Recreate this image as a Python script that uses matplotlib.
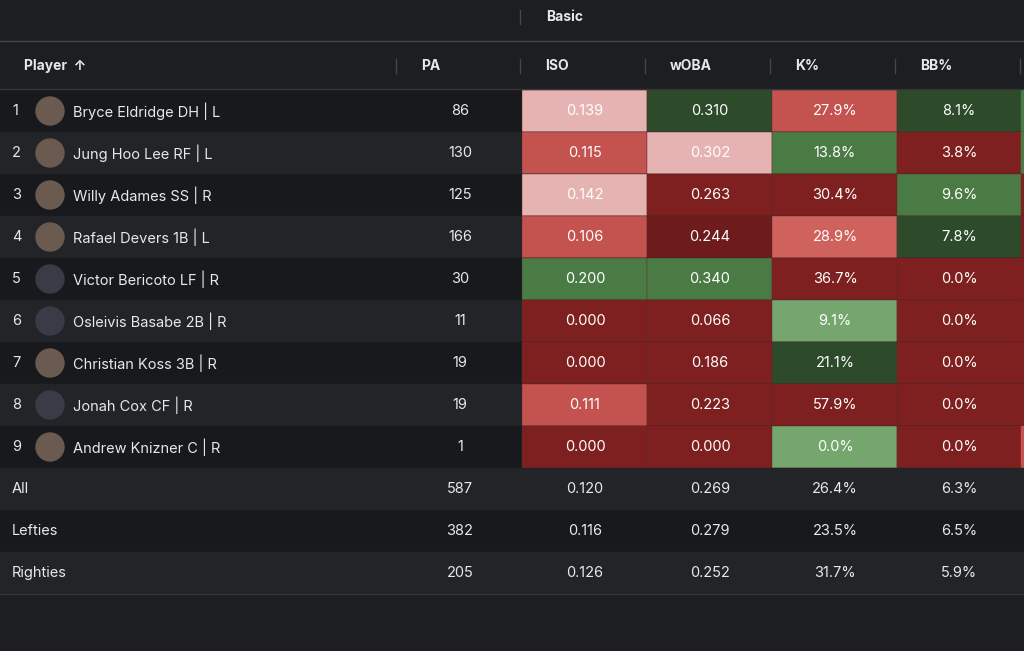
import matplotlib
matplotlib.use("Agg")
import matplotlib.pyplot as plt
from matplotlib.patches import Rectangle, Circle

plt.rcParams["font.family"] = ["Inter", "DejaVu Sans"]

players = ["Bryce Eldridge DH | L", "Jung Hoo Lee RF | L", "Willy Adames SS | R",
           "Rafael Devers 1B | L", "Victor Bericoto LF | R", "Osleivis Basabe 2B | R",
           "Christian Koss 3B | R", "Jonah Cox CF | R", "Andrew Knizner C | R"]
has_photo = [1, 1, 1, 1, 0, 0, 1, 0, 1]
pa = [86, 130, 125, 166, 30, 11, 19, 19, 1]
iso = ["0.139", "0.115", "0.142", "0.106", "0.200", "0.000", "0.000", "0.111", "0.000"]
woba = ["0.310", "0.302", "0.263", "0.244", "0.340", "0.066", "0.186", "0.223", "0.000"]
kpct = ["27.9%", "13.8%", "30.4%", "28.9%", "36.7%", "9.1%", "21.1%", "57.9%", "0.0%"]
bbpct = ["8.1%", "3.8%", "9.6%", "7.8%", "0.0%", "0.0%", "0.0%", "0.0%", "0.0%"]

# heat level per cell: dr=dark red, r=red, lr=light red, pk=pink, dg=dark green, g=green, lg=light green
iso_lvl = ["pk", "r", "pk", "r", "g", "dr", "dr", "r", "dr"]
woba_lvl = ["dg", "pk", "dr", "ddr", "g", "dr", "dr", "dr", "dr"]
k_lvl = ["r", "g", "dr", "lr", "dr", "lg", "dg", "dr", "lg"]
bb_lvl = ["dg", "dr", "g", "dg", "dr", "dr", "dr", "dr", "dr"]
next_lvl = ["g", "g", "dr", "dr", "dr", "dr", "dr", "dr", "r"]

summary = ["All", "Lefties", "Righties"]
sum_pa = [587, 382, 205]
sum_iso = ["0.120", "0.116", "0.126"]
sum_woba = ["0.269", "0.279", "0.252"]
sum_k = ["26.4%", "23.5%", "31.7%"]
sum_bb = ["6.3%", "6.5%", "5.9%"]

PAL = {"dr": "#7f2020", "ddr": "#6e1b1b", "r": "#c4534f", "lr": "#d0625e",
       "pk": "#e4b3b2", "dg": "#2d4a2a", "g": "#4b7b45", "lg": "#74a66d"}

BG = "#1c1e21"
ROW_A = "#17191c"
ROW_B = "#222428"
TXT = "#e8e8e8"

fig = plt.figure(figsize=(10.24, 6.51), dpi=100)
fig.patch.set_facecolor(BG)
ax = fig.add_axes([0, 0, 1, 1])
ax.set_xlim(0, 1024)
ax.set_ylim(651, 0)
ax.axis("off")

# header
ax.text(565, 17, "Basic", color=TXT, fontsize=10, fontweight="bold", ha="center", va="center")
ax.plot([520, 520], [10, 24], color="#44474c", lw=1)
ax.plot([0, 1024], [41, 41], color="#44474c", lw=1)
ax.add_patch(Rectangle((0, 41), 1024, 48, color=BG))
heads = [("Player  ↑", 24), ("PA", 421), ("ISO", 545), ("wOBA", 670), ("K%", 795), ("BB%", 920)]
for h, x in heads:
    ax.text(x, 66, h, color=TXT, fontsize=10, fontweight="bold", ha="left", va="center")
for x in [396, 520, 645, 770, 895, 1020]:
    ax.plot([x, x], [59, 73], color="#44474c", lw=1)
ax.plot([0, 1024], [89, 89], color="#33363b", lw=1)

RH = 42
cols = [585, 710, 835, 959]
for i, name in enumerate(players):
    y0 = 90 + i * RH
    yc = y0 + RH / 2
    ax.add_patch(Rectangle((0, y0), 1024, RH, color=ROW_A if i % 2 == 0 else ROW_B))
    ax.text(12, yc, str(i + 1), color=TXT, fontsize=10.5, va="center")
    ax.add_patch(Circle((50, yc), 14, color="#6b5a50" if has_photo[i] else "#393c46"))
    ax.text(73, yc, name, color=TXT, fontsize=10.5, va="center")
    ax.text(460, yc, str(pa[i]), color=TXT, fontsize=10.5, ha="center", va="center")
    vals = [iso[i], woba[i], kpct[i], bbpct[i]]
    lvls = [iso_lvl[i], woba_lvl[i], k_lvl[i], bb_lvl[i]]
    for j, (v, l) in enumerate(zip(vals, lvls)):
        ax.add_patch(Rectangle((522 + j * 125, y0), 125, RH, facecolor=PAL[l],
                               edgecolor="#5a2a2a", lw=0.3))
        ax.text(cols[j], yc, v, color="white", fontsize=10.5, ha="center", va="center")
    ax.add_patch(Rectangle((1021, y0), 5, RH, color=PAL[next_lvl[i]]))

for k, lab in enumerate(summary):
    y0 = 468 + k * RH
    yc = y0 + RH / 2
    ax.add_patch(Rectangle((0, y0), 1024, RH, color=ROW_B if k % 2 == 0 else ROW_A))
    ax.text(12, yc, lab, color=TXT, fontsize=10.5, va="center")
    ax.text(460, yc, str(sum_pa[k]), color=TXT, fontsize=10.5, ha="center", va="center")
    for j, v in enumerate([sum_iso[k], sum_woba[k], sum_k[k], sum_bb[k]]):
        ax.text(cols[j], yc, v, color=TXT, fontsize=10.5, ha="center", va="center")
ax.plot([0, 1024], [594, 594], color="#33363b", lw=1)

fig.savefig("out.png", dpi=100, facecolor=BG)
